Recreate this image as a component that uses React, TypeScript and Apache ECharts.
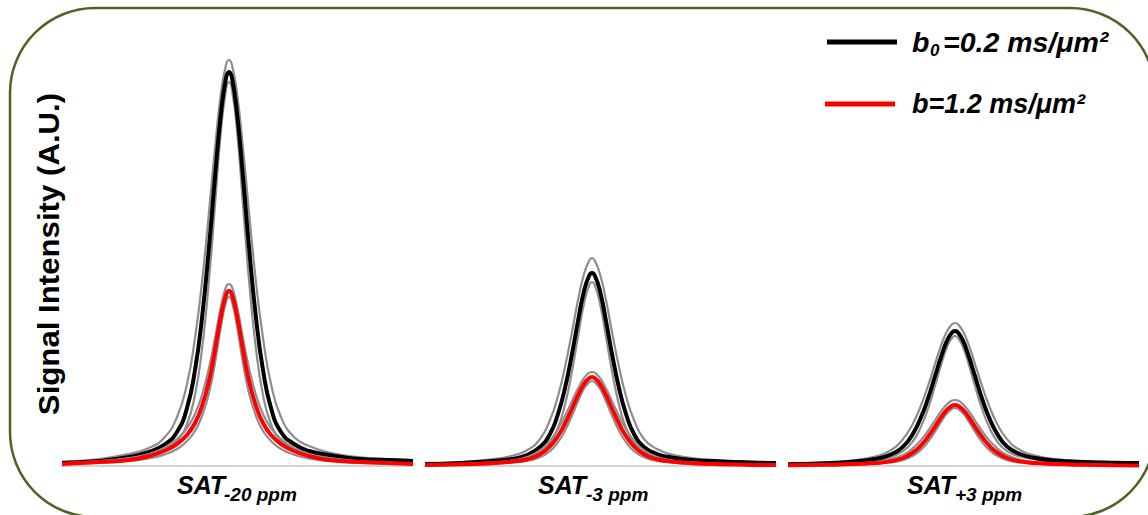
import React, { useEffect, useRef } from "react";
import * as echarts from "echarts";

// Offsets (in A.U. of chemical shift, peak at 0) at which the curves were read
const xs = [-167, -130, -100, -80, -65, -52, -42, -34, -27, -20, -14, -8, -3, 0, 3, 8, 14, 20, 27, 34, 42, 52, 65, 80, 100, 130, 160, 184];

// Panel 1: SAT -20 ppm
const p1Black = [3, 5, 9, 14, 21, 34, 58, 96, 148, 219, 289, 353, 388, 394, 388, 353, 289, 219, 148, 96, 58, 34, 22, 15, 11, 7, 6, 5];
const p1BlackHi = [4.5, 7, 12, 18, 28, 49, 82, 128, 184, 254, 318, 373, 401, 406, 401, 373, 318, 254, 184, 128, 82, 49, 29, 20, 13.5, 9, 7, 6];
const p1BlackLo = [2.6, 4.2, 7, 10.8, 15.9, 25, 42, 71, 117, 186, 261, 336, 376, 384, 376, 336, 261, 186, 117, 71, 42, 25, 16.5, 12, 8.5, 6, 4.5, 4];
const p1Red = [2, 4, 6, 10, 15, 22, 31, 43, 60, 85, 116, 150, 171, 175, 171, 150, 116, 85, 60, 43, 31, 22, 15, 10, 6, 4, 3, 2];
const p1RedHi = [3, 5, 8, 12, 18, 27, 38, 52, 71, 98, 128, 160, 179, 182, 179, 160, 128, 98, 71, 52, 38, 27, 18, 12, 8, 5, 3, 2];
const p1RedLo = [1.8, 3, 5, 7.7, 11.4, 17, 25, 35, 50, 73, 103, 140, 164, 169, 164, 140, 103, 73, 50, 35, 25, 17, 11.4, 7.7, 5, 3, 2, 1.5];

// Panel 2: SAT -3 ppm
const p2Black = [2, 3, 5, 7, 11, 19, 32, 52, 78, 112, 145, 175, 190, 193, 190, 175, 145, 112, 78, 52, 32, 19, 12, 8.5, 6, 4.5, 3.5, 3];
const p2BlackHi = [2.5, 4, 6.6, 10.2, 15.7, 27, 46, 70, 99, 134, 166, 192, 205, 208, 205, 192, 166, 134, 99, 70, 46, 27, 17, 11.5, 8, 5.5, 4, 3.5];
const p2BlackLo = [1.4, 2.2, 3.7, 5.7, 8.4, 13.4, 22.8, 38.3, 61.3, 94.8, 129.4, 162.5, 180.3, 184, 180.3, 162.5, 129.4, 94.8, 61.3, 38.3, 22.8, 13.4, 9.5, 7, 5, 3.5, 2.5, 2];
const p2Red = [1.1, 1.7, 2.8, 4.4, 6.7, 11.7, 19.7, 30, 42.5, 57.5, 70.8, 82.2, 87.8, 89, 87.8, 82.2, 70.8, 57.5, 42.5, 30, 19.7, 11.7, 6.7, 4.4, 2.8, 1.7, 1.1, 0.9];
const p2RedHi = [1.3, 2.2, 3.6, 5.5, 8.9, 15.5, 25.3, 36.9, 50, 64.9, 77.6, 88, 93.2, 94, 93.2, 88, 77.6, 64.9, 50, 36.9, 25.3, 15.5, 8.9, 5.5, 3.6, 2.2, 1.4, 1.1];
const p2RedLo = [0.8, 1.3, 2.2, 3.4, 5.1, 8.7, 14.8, 23.8, 35.4, 50.4, 64.6, 77.2, 83.6, 85, 83.6, 77.2, 64.6, 50.4, 35.4, 23.8, 14.8, 8.7, 5.1, 3.4, 2.2, 1.3, 0.9, 0.7];

// Panel 3: SAT +3 ppm
const p3Black = [1.7, 2.8, 4.6, 7.1, 11.2, 19.4, 32.4, 48.7, 67.5, 89.8, 109, 125.4, 133.5, 135, 133.5, 125.4, 109, 89.8, 67.5, 48.7, 32.4, 19.4, 12, 8, 5.5, 4, 3.2, 3];
const p3BlackHi = [2.2, 3.6, 5.9, 9.4, 15.4, 26.9, 42.5, 60.6, 80.2, 102, 120.4, 134.7, 141.8, 143, 141.8, 134.7, 120.4, 102, 80.2, 60.6, 42.5, 26.9, 16, 10.5, 7, 5, 4, 3.5];
const p3BlackLo = [1.4, 2.2, 3.7, 5.6, 8.6, 14.8, 25, 39.4, 57.3, 80, 100.8, 119, 128.2, 130, 128.2, 119, 100.8, 80, 57.3, 39.4, 25, 14.8, 9.5, 6.5, 4.5, 3, 2.2, 2];
const p3Red = [0.7, 1.2, 1.9, 3, 4.6, 8, 13.5, 20.6, 29.2, 39.4, 48.6, 56.4, 60.2, 61, 60.2, 56.4, 48.6, 39.4, 29.2, 20.6, 13.5, 8, 4.6, 3, 1.9, 1.2, 0.8, 0.6];
const p3RedHi = [0.9, 1.5, 2.5, 3.8, 6.3, 10.9, 17.8, 25.9, 35.1, 45.5, 54.5, 61.8, 65.4, 66, 65.4, 61.8, 54.5, 45.5, 35.1, 25.9, 17.8, 10.9, 6.3, 3.8, 2.5, 1.5, 1, 0.8];
const p3RedLo = [0.6, 0.9, 1.5, 2.3, 3.5, 5.9, 10.1, 16.2, 24.1, 34.4, 44.1, 52.7, 57.1, 58, 57.1, 52.7, 44.1, 34.4, 24.1, 16.2, 10.1, 5.9, 3.5, 2.3, 1.5, 0.9, 0.6, 0.5];

const panelMain = ["SAT", "SAT", "SAT"];
const panelSub = ["-20 ppm", "-3 ppm", "+3 ppm"];
const legendBlack = ["b", "0", "=0.2 ms/μm²"];
const legendRed = "b=1.2 ms/μm²";
const yTitle = "Signal Intensity (A.U.)";

const panels = [
  { black: p1Black, hi: p1BlackHi, lo: p1BlackLo, red: p1Red, rhi: p1RedHi, rlo: p1RedLo },
  { black: p2Black, hi: p2BlackHi, lo: p2BlackLo, red: p2Red, rhi: p2RedHi, rlo: p2RedLo },
  { black: p3Black, hi: p3BlackHi, lo: p3BlackLo, red: p3Red, rhi: p3RedHi, rlo: p3RedLo },
];

const FONT = "'Liberation Sans', Arial, Helvetica, sans-serif";

export default function App() {
  const ref = useRef<HTMLDivElement>(null);
  useEffect(() => {
    if (!ref.current) return;
    const chart = echarts.init(ref.current, undefined, { renderer: "svg" });
    const lefts = [62, 425, 788];
    const grids = lefts.map((l) => ({ left: l, width: 351, top: 46, height: 420 }));
    const xAxes = lefts.map((_, i) => ({
      type: "value",
      gridIndex: i,
      min: -167,
      max: 184,
      axisLine: { show: true, lineStyle: { color: "#c4c4c4", width: 1.5 } },
      axisTick: { show: false },
      axisLabel: { show: false },
      splitLine: { show: false },
    }));
    const yAxes = lefts.map((_, i) => ({
      type: "value",
      gridIndex: i,
      min: 0,
      max: 420,
      show: false,
      splitLine: { show: false },
    }));
    const mk = (i: number, name: string, arr: number[], color: string, width: number, z: number) => ({
      type: "line",
      name,
      xAxisIndex: i,
      yAxisIndex: i,
      data: xs.map((x, k) => [x, arr[k]]),
      symbol: "none",
      smooth: 0.5,
      silent: true,
      z,
      lineStyle: { color, width },
    });
    const series: any[] = [];
    panels.forEach((p, i) => {
      series.push(mk(i, "b0 upper", p.hi, "#8e8e8e", 2.2, 2));
      series.push(mk(i, "b0 lower", p.lo, "#8e8e8e", 2.2, 2));
      series.push(mk(i, "b0=0.2 ms/μm²", p.black, "#000000", 4, 3));
      series.push(mk(i, "b upper", p.rhi, "#8e8e8e", 2.2, 4));
      series.push(mk(i, "b lower", p.rlo, "#8e8e8e", 2.2, 4));
      series.push(mk(i, "b=1.2 ms/μm²", p.red, "#ff0000", 4, 5));
    });

    const bi = "italic bold ";
    const graphic: any[] = [
      {
        type: "rect",
        shape: { x: 10, y: 8, width: 1145, height: 509, r: 85 },
        style: { fill: "none", stroke: "#4f6228", lineWidth: 2.5 },
        silent: true,
      },
      { type: "line", shape: { x1: 827, y1: 42, x2: 897, y2: 42 }, style: { stroke: "#000", lineWidth: 5 } },
      { type: "line", shape: { x1: 825, y1: 104, x2: 895, y2: 104 }, style: { stroke: "#ff0000", lineWidth: 5 } },
      { type: "text", x: 912, y: 42, style: { text: legendBlack[0], font: bi + "28.5px " + FONT, fill: "#000", align: "left", verticalAlign: "middle" } },
      { type: "text", x: 930, y: 50, style: { text: legendBlack[1], font: bi + "17px " + FONT, fill: "#000", align: "left", verticalAlign: "middle" } },
      { type: "text", x: 943, y: 42, style: { text: legendBlack[2], font: bi + "28.5px " + FONT, fill: "#000", align: "left", verticalAlign: "middle" } },
      { type: "text", x: 912, y: 104, style: { text: legendRed, font: bi + "27px " + FONT, fill: "#000", align: "left", verticalAlign: "middle" } },
      {
        type: "text",
        x: 48,
        y: 254,
        rotation: Math.PI / 2,
        scaleX: 1.04,
        style: { text: yTitle, font: "bold 30px " + FONT, fill: "#000", align: "center", verticalAlign: "middle" },
      },
    ];
    const satX = [177, 538, 907];
    const subX = [224, 586, 955];
    satX.forEach((x, i) => {
      graphic.push({ type: "text", x, y: 485, style: { text: panelMain[i], font: bi + "25px " + FONT, fill: "#000", align: "left", verticalAlign: "middle" } });
      graphic.push({ type: "text", x: subX[i], y: 494, style: { text: panelSub[i], font: bi + "19px " + FONT, fill: "#000", align: "left", verticalAlign: "middle" } });
    });

    chart.setOption({
      animation: false,
      backgroundColor: "#ffffff",
      grid: grids,
      xAxis: xAxes,
      yAxis: yAxes,
      series,
      graphic,
    });
    return () => chart.dispose();
  }, []);
  return <div ref={ref} style={{ position: "fixed", left: 0, top: 0, width: 1148, height: 515 }} />;
}
